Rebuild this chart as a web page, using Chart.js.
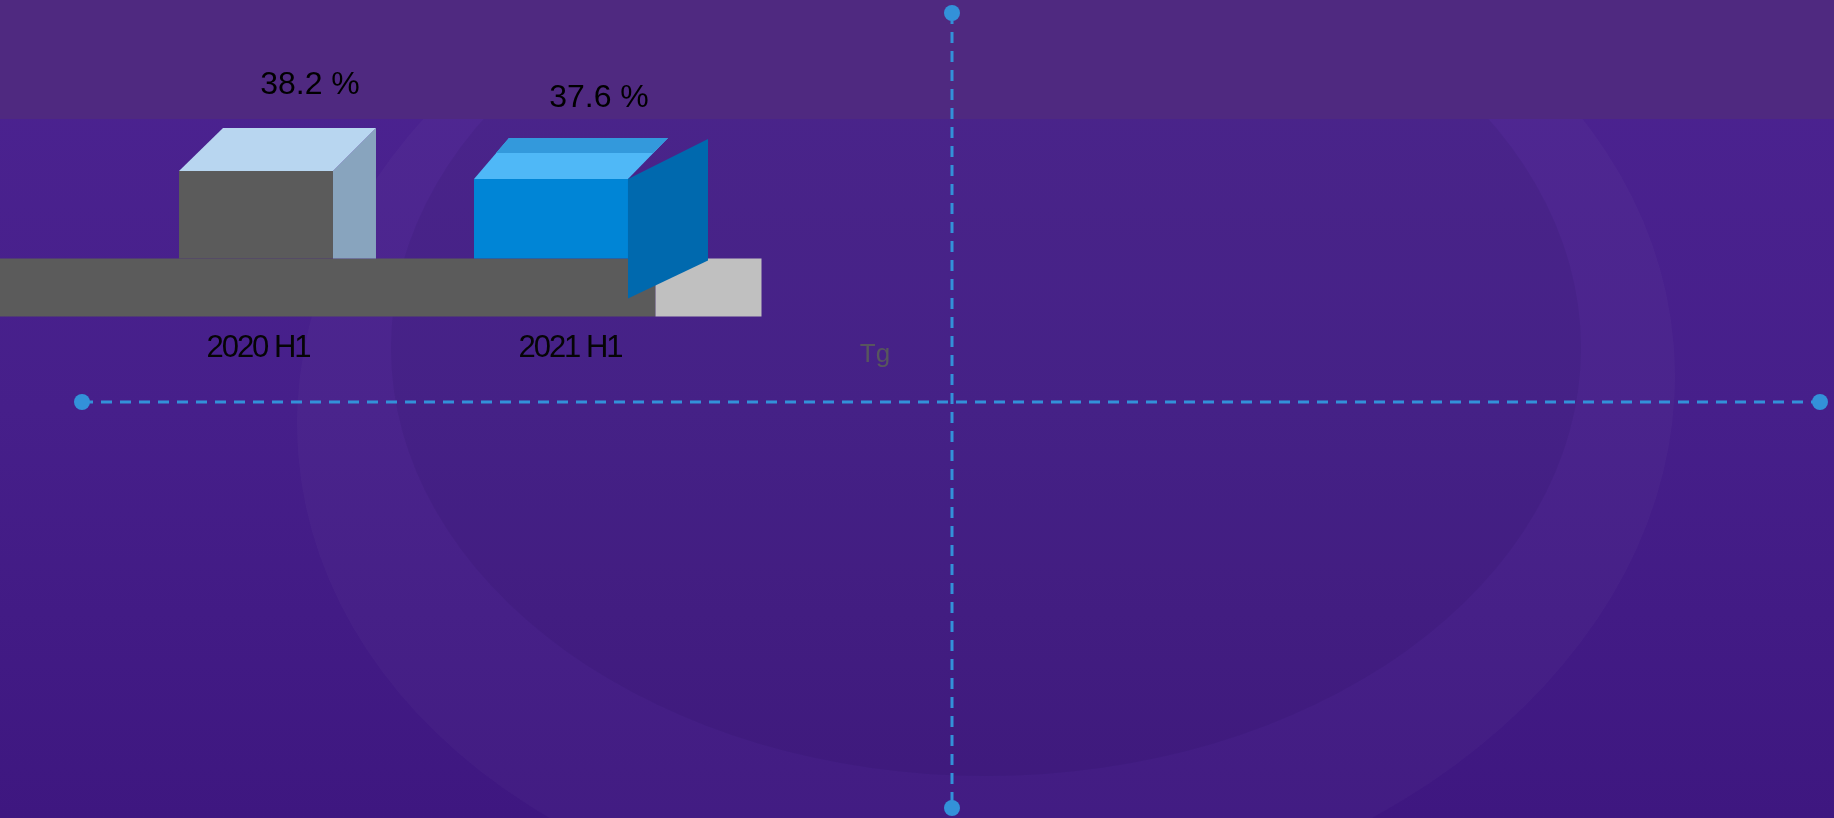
<!DOCTYPE html>
<html>
<head>
<meta charset="utf-8">
<script src="https://cdn.jsdelivr.net/npm/chart.js@4/dist/chart.umd.min.js"></script>
<style>
    html, body { margin: 0; padding: 0; background: #4a2290; overflow: hidden; }
    #wrap { width: 1834px; height: 818px; position: relative; }
</style>
</head>
<body>
<div id="wrap"><canvas id="mainChart" width="1834" height="818"></canvas></div>
<script>
// data
const categories = ['2020 H1', '2021 H1'];
const shares = [38.2, 37.6];
const valueLabels = ['38.2 %', '37.6 %'];

const frontColors = ['#5b5b5b', '#0085d6'];
const topColors = ['#b8d6f0', '#4fb8f7'];
const sideColors = ['#88a4be', '#0069ae'];

// background, rings and the header band
const backdrop = {
    id: 'backdrop',
    beforeDraw(chart) {
        const ctx = chart.ctx;
        const w = chart.width, h = chart.height;
        ctx.save();
        const g = ctx.createLinearGradient(0, 0, 0, h);
        g.addColorStop(0, '#4c2391');
        g.addColorStop(0.5, '#461f8a');
        g.addColorStop(1, '#3e1780');
        ctx.fillStyle = g;
        ctx.fillRect(0, 0, w, h);

        ctx.fillStyle = 'rgba(255,255,255,0.025)';
        ctx.beginPath();
        ctx.ellipse(986, 400, 690, 520, -0.08, 0, Math.PI * 2);
        ctx.fill();
        ctx.fillStyle = 'rgba(20,0,60,0.07)';
        ctx.beginPath();
        ctx.ellipse(986, 348, 595, 428, 0, 0, Math.PI * 2);
        ctx.fill();

        ctx.fillStyle = '#4f2980';
        ctx.fillRect(0, 0, w, 119);
        ctx.restore();
    }
};

// floor slab under the bars
const floor = {
    id: 'floor',
    beforeDatasetsDraw(chart) {
        const ctx = chart.ctx;
        const area = chart.chartArea;
        ctx.save();
        ctx.fillStyle = '#5b5b5b';
        ctx.fillRect(0, area.bottom, area.right - 43, 58);
        ctx.fillStyle = '#c0c0c0';
        ctx.fillRect(area.right - 43, area.bottom, 106, 58);
        ctx.restore();
    }
};

function poly(ctx, pts, color) {
    ctx.fillStyle = color;
    ctx.beginPath();
    ctx.moveTo(pts[0][0], pts[0][1]);
    for (let i = 1; i < pts.length; i++) ctx.lineTo(pts[i][0], pts[i][1]);
    ctx.closePath();
    ctx.fill();
}

// top and side faces, value labels, category labels
const boxes = {
    id: 'boxes',
    afterDatasetsDraw(chart) {
        const ctx = chart.ctx;
        const meta = chart.getDatasetMeta(0);
        const b = chart.chartArea.bottom;
        ctx.save();
        meta.data.forEach((bar, i) => {
            const l = bar.x - bar.width / 2;
            const r = bar.x + bar.width / 2;
            const t = bar.y;
            if (i === 0) {
                poly(ctx, [[r, t], [r + 43, t - 43], [r + 43, b], [r, b]], sideColors[i]);
                poly(ctx, [[l, t], [r, t], [r + 43, t - 43], [l + 44, t - 43]], topColors[i]);
            } else {
                poly(ctx, [[l, t], [r, t], [r + 40, t - 41], [l + 35, t - 41]], topColors[i]);
                poly(ctx, [[l + 35, t - 41], [r + 40, t - 41], [r + 25, t - 26], [l + 22, t - 26]], '#3399dc');
                poly(ctx, [[r, t], [r + 80, t - 40], [r + 80, b + 2], [r, b + 40]], sideColors[i]);
            }
            ctx.fillStyle = '#000';
            ctx.font = '32px "Liberation Sans", Arial, sans-serif';
            ctx.textAlign = 'center';
            ctx.textBaseline = 'middle';
            const dx = i === 0 ? 54 : 48;
            const dy = i === 0 ? 86 : 81;
            ctx.fillText(valueLabels[i], bar.x + dx, t - dy);

            ctx.font = '31px "Liberation Sans", Arial, sans-serif';
            ctx.letterSpacing = '-2px';
            ctx.textBaseline = 'alphabetic';
            ctx.fillStyle = '#050505';
            ctx.fillText(chart.data.labels[i], bar.x + (i === 0 ? 2 : 19), 357);
            ctx.letterSpacing = '0px';
        });
        ctx.restore();
    }
};

// dashed cross with dots and the stray "Tg"
const cross = {
    id: 'cross',
    afterDraw(chart) {
        const ctx = chart.ctx;
        ctx.save();
        ctx.strokeStyle = '#3391d9';
        ctx.fillStyle = '#3391d9';
        ctx.lineWidth = 3;
        ctx.setLineDash([11, 8]);
        ctx.beginPath();
        ctx.moveTo(952, 13);
        ctx.lineTo(952, 808);
        ctx.moveTo(82, 402);
        ctx.lineTo(1820, 402);
        ctx.stroke();
        ctx.setLineDash([]);
        [[952, 13], [952, 808], [82, 402], [1820, 402]].forEach(p => {
            ctx.beginPath();
            ctx.arc(p[0], p[1], 8, 0, Math.PI * 2);
            ctx.fill();
        });
        ctx.fillStyle = '#57555e';
        ctx.font = '26px "Liberation Sans", Arial, sans-serif';
        ctx.textAlign = 'center';
        ctx.textBaseline = 'alphabetic';
        ctx.fillText('Tg', 875, 362);
        ctx.restore();
    }
};

const ctx = document.getElementById('mainChart').getContext('2d');
const chart = new Chart(ctx, {
    type: 'bar',
    data: {
        labels: categories,
        datasets: [{
            label: 'Share',
            data: shares,
            backgroundColor: frontColors,
            borderWidth: 0,
            categoryPercentage: 1,
            barPercentage: 0.522
        }]
    },
    options: {
        responsive: false,
        animation: false,
        layout: {
            padding: { left: 108.5, right: 1135.5, top: 80.8, bottom: 559.5 }
        },
        plugins: {
            legend: { display: false },
            tooltip: { enabled: false }
        },
        scales: {
            x: { display: false },
            y: {
                display: false,
                min: 31.6,
                max: 45
            }
        }
    },
    plugins: [backdrop, floor, boxes, cross]
});
</script>
</body>
</html>
